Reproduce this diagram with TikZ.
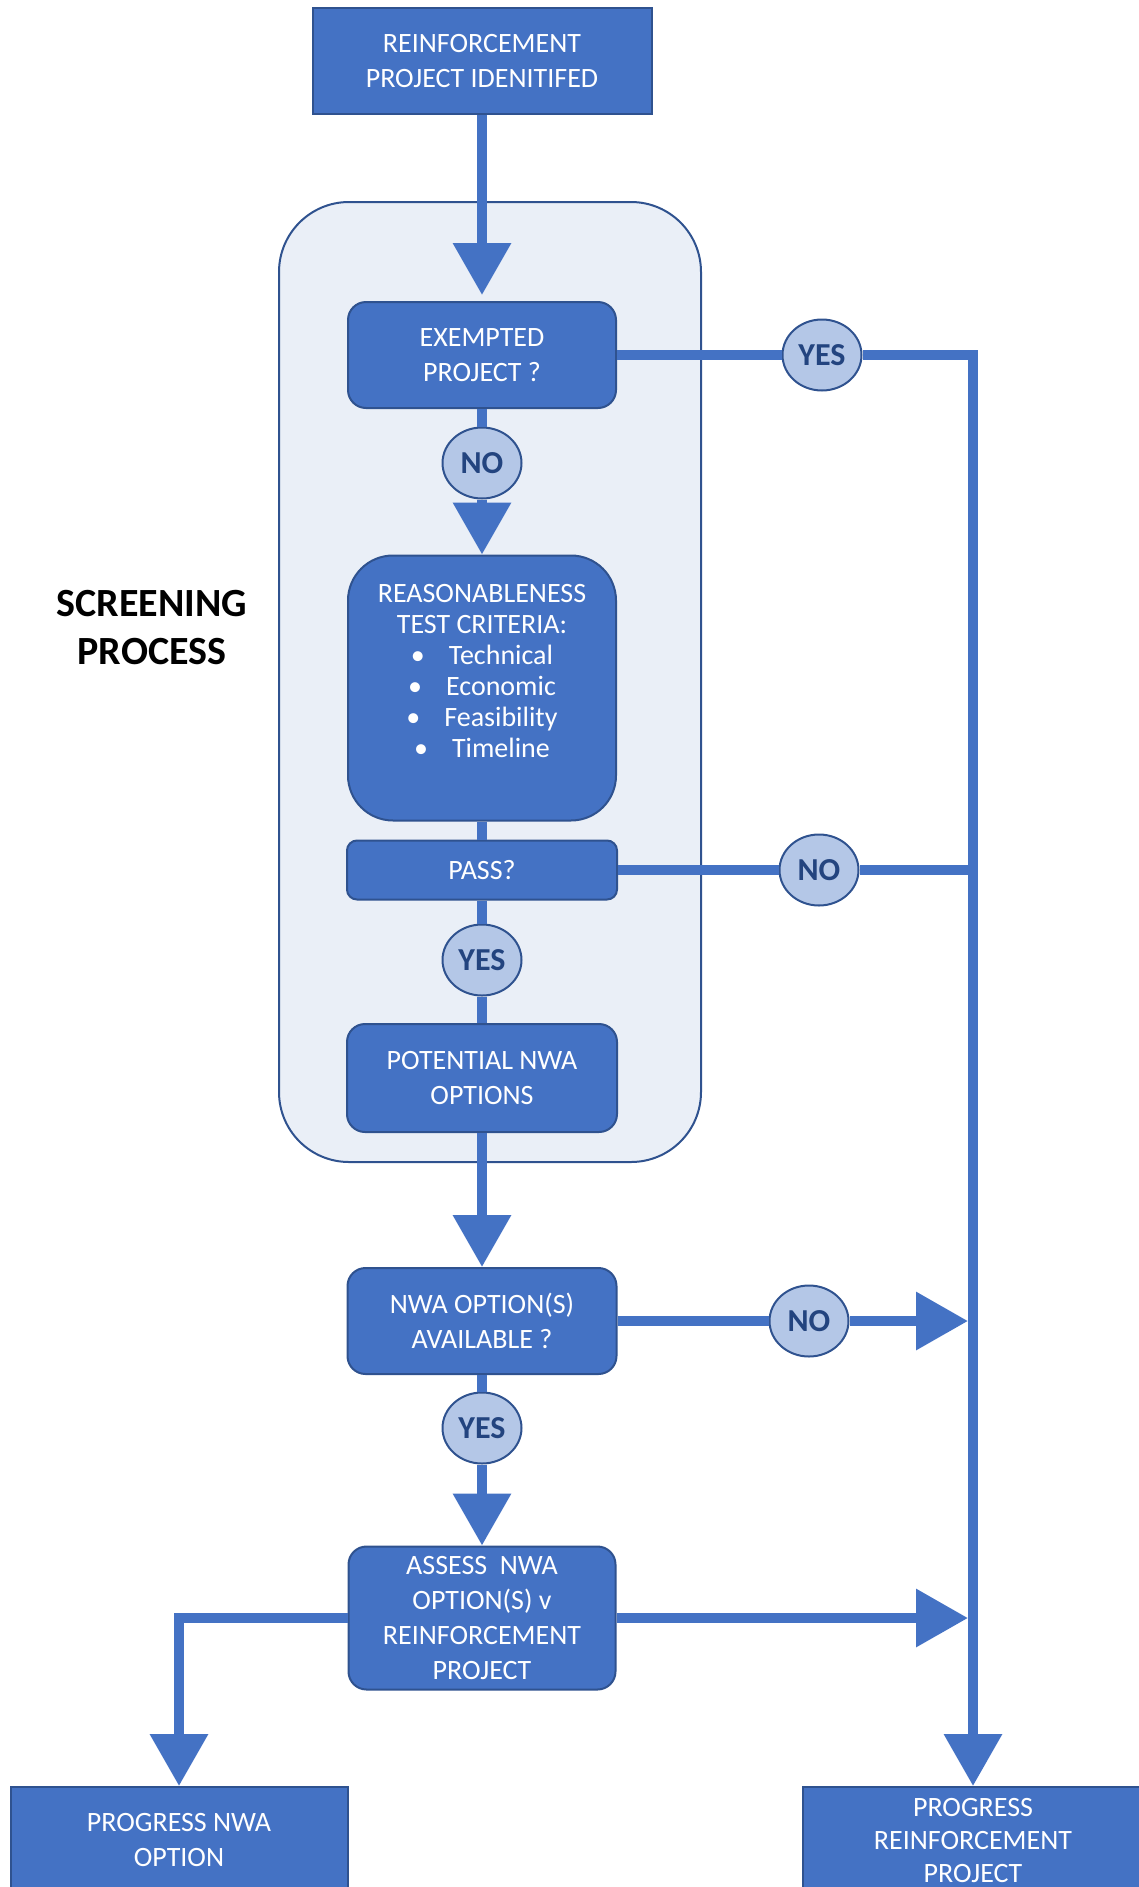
\documentclass[tikz,border=0pt]{standalone}
\usepackage{fontspec}
\setmainfont{Carlito}
\usetikzlibrary{positioning,arrows.meta}
\usetikzlibrary{shapes.geometric}
\usepackage{xcolor}
\definecolor{boxblue}{HTML}{4472C4}
\definecolor{boxedge}{HTML}{2F528F}
\definecolor{tagfill}{HTML}{B4C7E7}
\definecolor{tagtext}{HTML}{23447F}
\definecolor{panel}{HTML}{EAEFF7}

\begin{document}
\begin{tikzpicture}[x=1pt,y=-1pt]
	\path[use as bounding box,clip] (0,0) rectangle (1139,1887);
	\tikzstyle{stepbox}=[rectangle, fill=boxblue, draw=boxedge, line width=2pt, text=white, align=center, inner sep=0pt, font=\fontsize{28}{35}\selectfont]
	\tikzstyle{roundbox}=[stepbox, rounded corners=18pt]
	\tikzstyle{answer}=[ellipse, fill=tagfill, draw=boxedge, line width=2pt, text=tagtext, inner sep=0pt, minimum width=79pt, minimum height=71pt, font=\fontsize{32}{32}\selectfont\bfseries]
	\tikzstyle{flowline}=[draw=boxblue, line width=10pt]
	\tikzstyle{flowarrow}=[flowline, -{Triangle[width=56pt,length=52pt]}]
	\draw (490,682) node (screen) [fill=panel, draw=boxedge, line width=2pt, rounded corners=70pt, minimum width=422pt, minimum height=960pt]{};
	\draw (152,628) node (title) [align=center, font=\fontsize{40}{48}\selectfont\bfseries]{SCREENING\\PROCESS};
	\draw (482,61) node (ident) [stepbox, minimum width=339pt, minimum height=106pt]{REINFORCEMENT\\PROJECT IDENITIFED};
	\draw (482,355) node (exempt) [roundbox, minimum width=268pt, minimum height=106pt]{EXEMPTED\\PROJECT ?};
	\draw (482,688) node (reason) [roundbox, rounded corners=45pt, minimum width=268pt, minimum height=265pt]{\parbox[c][265pt][t]{260pt}{\centering\fontsize{28}{31}\selectfont\rule{0pt}{47pt}REASONABLENESS\\TEST CRITERIA:\\\textbullet\hspace{24pt}Technical\\\textbullet\hspace{24pt}Economic\\\textbullet\hspace{24pt}Feasibility\\\textbullet\hspace{24pt}Timeline}};
	\draw (482,870) node (pass) [roundbox, rounded corners=10pt, minimum width=270pt, minimum height=59pt]{PASS?};
	\draw (482,1078) node (pot) [roundbox, minimum width=270pt, minimum height=108pt]{POTENTIAL NWA\\OPTIONS};
	\draw (482,1321) node (avail) [roundbox, minimum width=269pt, minimum height=106pt]{NWA OPTION(S)\\AVAILABLE ?};
	\draw (482,1618) node (assess) [roundbox, minimum width=267pt, minimum height=143pt]{ASSESS\ \ NWA\\OPTION(S) v\\REINFORCEMENT\\PROJECT};
	\draw (179,1840) node (nwa) [stepbox, minimum width=337pt, minimum height=106pt]{PROGRESS NWA\\OPTION};
	\draw (973,1840) node (prog) [stepbox, minimum width=341pt, minimum height=106pt, font=\fontsize{28}{33}\selectfont]{PROGRESS\\REINFORCEMENT\\PROJECT};
	\draw (482,463) node (no1) [answer]{NO};
	\draw (822,355) node (yes1) [answer]{YES};
	\draw (819,870) node (no2) [answer]{NO};
	\draw (482,960) node (yes2) [answer]{YES};
	\draw (809,1321) node (no3) [answer]{NO};
	\draw (482,1428) node (yes3) [answer]{YES};
	\draw [flowarrow, shorten >=6pt] (ident) -- (exempt);
	\draw [flowline] (exempt) -- (no1);
	\draw [flowarrow] (no1) -- (reason);
	\draw [flowline] (reason) -- (pass);
	\draw [flowline] (pass) -- (yes2);
	\draw [flowline] (yes2) -- (pot);
	\draw [flowarrow] (pot) -- (avail);
	\draw [flowline] (avail) -- (yes3);
	\draw [flowarrow] (yes3) -- (assess);
	\draw [flowline] (exempt) -- (yes1);
	\draw [flowarrow] (yes1) -| (prog);
	\draw [flowline] (pass) -- (no2);
	\draw [flowline] (no2) -- (no2 -| prog);
	\draw [flowline] (avail) -- (no3);
	\draw [flowarrow, shorten >=5pt] (no3) -- (no3 -| prog);
	\draw [flowarrow, shorten >=5pt] (assess) -- (assess -| prog);
	\draw [flowarrow] (assess) -| (nwa);
\end{tikzpicture}
\end{document}
